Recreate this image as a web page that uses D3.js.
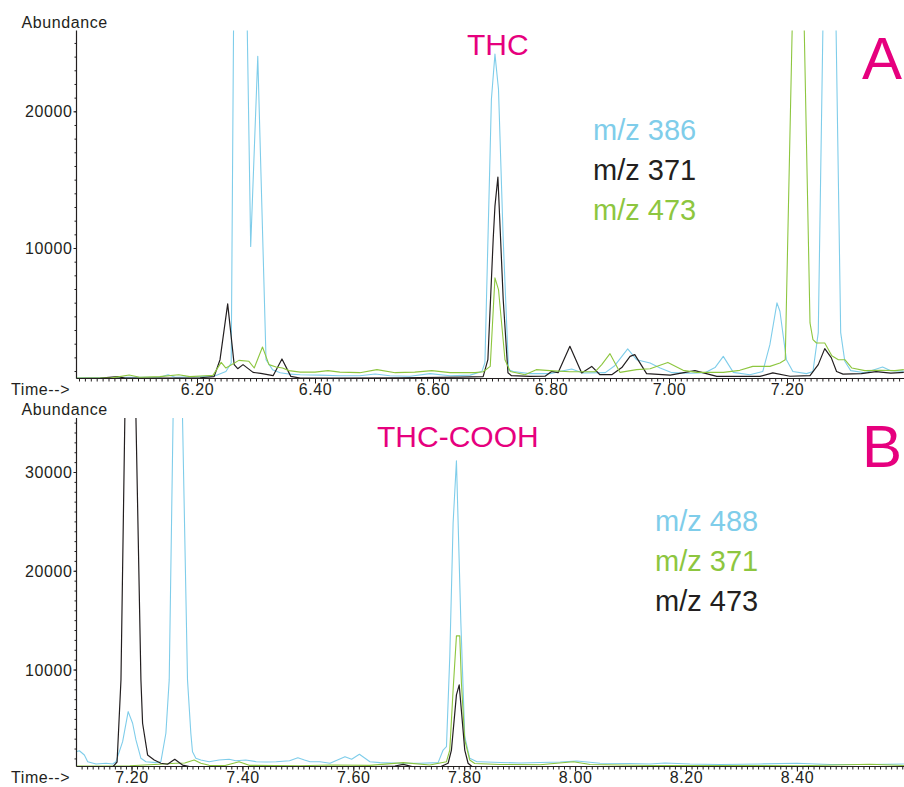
<!DOCTYPE html>
<html>
<head>
<meta charset="utf-8">
<script src="https://cdnjs.cloudflare.com/ajax/libs/d3/7.8.5/d3.min.js"></script>
<style>
  body { margin: 0; background: #fff; }
  svg { display: block; font-family: "Liberation Sans", Arial, sans-serif; }
</style>
</head>
<body>
<svg id="chart" width="904" height="787"></svg>
<script>
// ---- Panel A (THC): [time (min), abundance] ----
const topMz386 = [[5.995,510],[6.036,510],[6.086,550],[6.137,550],[6.151,730],[6.163,550],[6.205,590],[6.231,660],[6.249,970],[6.258,1590],[6.262,26500],[6.268,60000],[6.285,26500],[6.291,10110],[6.303,24030],[6.317,1830],[6.328,1100],[6.341,880],[6.358,770],[6.375,730],[6.408,700],[6.442,660],[6.476,660],[6.502,780],[6.527,660],[6.561,620],[6.595,810],[6.629,660],[6.663,700],[6.683,970],[6.688,1610],[6.699,20880],[6.705,24180],[6.711,21610],[6.719,10620],[6.728,1100],[6.736,970],[6.764,810],[6.798,810],[6.835,1150],[6.854,860],[6.892,880],[6.908,1390],[6.930,2615],[6.945,1830],[6.968,1590],[6.985,1220],[7.005,880],[7.036,840],[7.061,880],[7.078,1250],[7.092,2070],[7.109,900],[7.137,730],[7.159,970],[7.171,2930],[7.183,5990],[7.188,5370],[7.199,1830],[7.210,970],[7.233,810],[7.244,970],[7.253,3810],[7.261,26500],[7.271,60000],[7.283,26500],[7.291,3810],[7.298,1710],[7.308,1030],[7.332,880],[7.362,1300],[7.375,1030],[7.398,990]];
const topMz371 = [[5.995,440],[6.036,480],[6.066,590],[6.078,480],[6.137,480],[6.205,510],[6.229,590],[6.239,1830],[6.252,5910],[6.263,1470],[6.269,1170],[6.278,1470],[6.295,900],[6.308,830],[6.329,660],[6.344,1880],[6.359,610],[6.375,480],[6.442,480],[6.544,510],[6.646,550],[6.685,590],[6.693,1830],[6.702,10620],[6.705,13060],[6.710,15190],[6.719,6230],[6.727,880],[6.733,660],[6.764,610],[6.790,620],[6.801,970],[6.812,880],[6.832,2810],[6.852,860],[6.869,1340],[6.883,730],[6.903,730],[6.920,1250],[6.934,2070],[6.942,2200],[6.962,810],[7.002,700],[7.044,1030],[7.081,610],[7.154,610],[7.176,860],[7.205,620],[7.239,660],[7.253,1470],[7.264,2640],[7.275,1980],[7.284,970],[7.295,770],[7.326,810],[7.351,950],[7.376,840],[7.398,900]];
const topMz473 = [[5.995,480],[6.053,480],[6.085,710],[6.103,550],[6.137,590],[6.169,730],[6.188,590],[6.214,660],[6.227,680],[6.241,1630],[6.249,1220],[6.271,1780],[6.288,1710],[6.297,1220],[6.311,2760],[6.322,1470],[6.334,1300],[6.345,1220],[6.356,1030],[6.375,920],[6.400,920],[6.422,1030],[6.442,920],[6.476,880],[6.505,1100],[6.536,880],[6.569,920],[6.598,1030],[6.629,880],[6.671,880],[6.685,950],[6.697,1340],[6.705,7820],[6.711,6960],[6.722,1830],[6.731,970],[6.756,730],[6.775,1100],[6.798,1030],[6.832,950],[6.875,950],[6.886,1470],[6.900,2270],[6.917,900],[6.945,1100],[6.968,1170],[6.998,1630],[7.024,1050],[7.047,900],[7.092,900],[7.120,1050],[7.142,1340],[7.171,1340],[7.188,1590],[7.197,1830],[7.209,26500],[7.219,60000],[7.229,26500],[7.239,4520],[7.244,3300],[7.250,3050],[7.264,3050],[7.276,2120],[7.287,1830],[7.298,1830],[7.310,1220],[7.332,1030],[7.358,1060],[7.383,1030],[7.398,1100]];
const topXTicks = [6.2, 6.4, 6.6, 6.8, 7.0, 7.2];
const topYTicks = [10000, 20000];

// ---- Panel B (THC-COOH) ----
const botMz488 = [[7.100,1680],[7.106,1780],[7.115,1350],[7.121,670],[7.136,440],[7.154,510],[7.166,440],[7.172,670],[7.184,2700],[7.194,5740],[7.202,4560],[7.208,2870],[7.217,1010],[7.226,670],[7.244,570],[7.253,670],[7.262,3550],[7.268,8950],[7.275,35500],[7.283,63400],[7.292,35500],[7.301,8950],[7.307,3550],[7.310,1680],[7.316,1010],[7.325,840],[7.340,670],[7.358,840],[7.376,910],[7.388,770],[7.406,840],[7.425,670],[7.443,640],[7.461,670],[7.485,770],[7.500,1070],[7.512,840],[7.522,670],[7.540,670],[7.558,510],[7.585,1180],[7.597,910],[7.611,1420],[7.630,670],[7.648,570],[7.684,510],[7.720,510],[7.753,570],[7.762,1850],[7.768,2190],[7.774,11310],[7.780,24830],[7.786,31140],[7.794,14700],[7.801,3200],[7.810,1010],[7.823,670],[7.829,670],[7.865,590],[7.901,540],[7.937,590],[7.973,640],[8.003,740],[8.045,510],[8.099,490],[8.135,440],[8.162,540],[8.207,440],[8.261,390],[8.333,440],[8.400,510],[8.460,390],[8.532,390],[8.593,440]];
const botMz371 = [[7.100,230],[7.143,230],[7.197,260],[7.250,410],[7.280,510],[7.296,540],[7.313,840],[7.325,510],[7.340,300],[7.369,280],[7.394,670],[7.412,300],[7.459,280],[7.503,260],[7.558,330],[7.630,300],[7.690,570],[7.738,330],[7.768,670],[7.774,1850],[7.780,7940],[7.786,13410],[7.792,13410],[7.795,8610],[7.801,2870],[7.810,840],[7.819,490],[7.865,390],[7.937,360],[7.997,670],[8.027,390],[8.135,280],[8.261,280],[8.405,260],[8.532,410],[8.593,280]];
const botMz473 = [[7.100,130],[7.161,130],[7.167,200],[7.174,640],[7.181,8950],[7.188,35500],[7.197,68000],[7.208,35500],[7.217,8950],[7.220,4560],[7.229,1350],[7.241,840],[7.253,510],[7.265,410],[7.278,910],[7.292,330],[7.307,160],[7.360,130],[7.504,130],[7.612,130],[7.675,230],[7.690,390],[7.706,180],[7.756,130],[7.771,510],[7.777,1850],[7.786,7430],[7.791,8440],[7.801,1850],[7.807,510],[7.814,180],[7.901,130],[8.045,130],[8.225,130],[8.405,130],[8.593,130]];
const botXTicks = [7.2, 7.4, 7.6, 7.8, 8.0, 8.2, 8.4];
const botYTicks = [10000, 20000, 30000];

const cBlue = "#7fcdea", cBlack = "#231f20", cGreen = "#8dc63f", cPink = "#e6007e";

const svg = d3.select("#chart");

function drawPanel(p) {
  let g = svg.append("g");

  // scales pinned to the labelled ticks
  let x = d3.scaleLinear().domain(p.xRef).range(p.xPix);
  let y = d3.scaleLinear().domain(p.yRef).range(p.yPix);

  let clipId = "clip" + p.id;
  svg.append("clipPath").attr("id", clipId)
    .append("rect")
    .attr("x", p.left).attr("y", p.top)
    .attr("width", p.right - p.left).attr("height", p.bottom - p.top);

  let line = d3.line().x(d => x(d[0])).y(d => y(d[1]));

  p.series.forEach(s => {
    g.append("path")
      .datum(s.data)
      .attr("clip-path", `url(#${clipId})`)
      .attr("fill", "none")
      .attr("stroke", s.color)
      .attr("stroke-width", s.width)
      .attr("stroke-linejoin", "round")
      .attr("d", line);
  });

  // x axis: minor ticks every 0.01, labels every 0.2
  let x0 = x.invert(p.left), x1 = x.invert(p.right);
  let minor = d3.range(Math.ceil(x0 * 100), Math.floor(x1 * 100) + 1).map(d => d / 100);
  g.append("g")
    .attr("transform", `translate(0,${p.bottom})`)
    .call(d3.axisBottom(x).tickValues(minor).tickSize(3).tickFormat(""))
    .call(a => a.select(".domain").remove());
  let xAx = g.append("g")
    .attr("transform", `translate(0,${p.bottom})`)
    .call(d3.axisBottom(x).tickValues(p.xTicks).tickSize(5).tickFormat(d3.format(".2f")))
    .call(a => a.select(".domain").remove());
  xAx.selectAll("text").attr("y", 16).attr("dy", null)
    .style("font-size", "16px").style("letter-spacing", "0.6px").attr("fill", "#231f20");

  // y axis: minor ticks every 1000
  let yMax = y.invert(p.top), yMin = y.invert(p.bottom);
  let yMinor = d3.range(Math.ceil(yMin / 1000), Math.floor(yMax / 1000) + 1).map(d => d * 1000);
  g.append("g")
    .attr("transform", `translate(${p.left},0)`)
    .call(d3.axisLeft(y).tickValues(yMinor).tickSize(2).tickFormat(""))
    .call(a => a.select(".domain").remove());
  let yAx = g.append("g")
    .attr("transform", `translate(${p.left},0)`)
    .call(d3.axisLeft(y).tickValues(p.yTicks).tickSize(3).tickPadding(1).tickFormat(d3.format("d")))
    .call(a => a.select(".domain").remove());
  yAx.selectAll("text").attr("dy", "0.35em")
    .style("font-size", "16px").style("letter-spacing", "0.6px").attr("fill", "#231f20");

  g.selectAll(".tick line").attr("stroke", "#231f20");

  // axis lines
  g.append("line").attr("x1", p.left).attr("x2", p.left).attr("y1", p.top).attr("y2", p.bottom)
    .attr("stroke", "#231f20").attr("stroke-width", 1.2);
  g.append("line").attr("x1", p.left).attr("x2", p.right).attr("y1", p.bottom).attr("y2", p.bottom)
    .attr("stroke", "#231f20").attr("stroke-width", 1.2);

  // axis captions
  g.append("text").attr("x", 21.5).attr("y", p.top - 3)
    .style("font-size", "16px").style("letter-spacing", "0.6px").attr("fill", "#231f20")
    .text("Abundance");
  g.append("text").attr("x", 11).attr("y", p.bottom + 16)
    .style("font-size", "16px").style("letter-spacing", "0.6px").attr("fill", "#231f20")
    .text("Time-->");

  // compound name and panel letter
  g.append("text").attr("x", p.nameX).attr("y", p.nameY)
    .style("font-size", "30px").attr("fill", cPink).text(p.name);
  g.append("text").attr("x", 862).attr("y", p.letterY)
    .style("font-size", "60px").attr("fill", cPink).text(p.letter);

  // legend
  p.legend.forEach((l, i) => {
    g.append("text").attr("x", p.legX).attr("y", p.legY + i * 40)
      .style("font-size", "29px").attr("fill", l.color).text(l.label);
  });
}

drawPanel({
  id: "A",
  xRef: [6.2, 7.2], xPix: [197, 787],
  yRef: [0, 20000], yPix: [384.7, 111.3],
  left: 76.5, right: 904, top: 30.5, bottom: 378.5,
  xTicks: topXTicks, yTicks: topYTicks,
  series: [
    { data: topMz386, color: cBlue, width: 1.1 },
    { data: topMz371, color: cBlack, width: 1.2 },
    { data: topMz473, color: cGreen, width: 1.1 }
  ],
  name: "THC", nameX: 467, nameY: 54.5,
  letter: "A", letterY: 78.5,
  legX: 593, legY: 140,
  legend: [
    { label: "m/z 386", color: cBlue },
    { label: "m/z 371", color: cBlack },
    { label: "m/z 473", color: cGreen }
  ]
});

drawPanel({
  id: "B",
  xRef: [7.2, 8.4], xPix: [131.5, 796.9],
  yRef: [0, 30000], yPix: [768.3, 472],
  left: 76.5, right: 904, top: 418, bottom: 766.5,
  xTicks: botXTicks, yTicks: botYTicks,
  series: [
    { data: botMz488, color: cBlue, width: 1.1 },
    { data: botMz371, color: cGreen, width: 1.1 },
    { data: botMz473, color: cBlack, width: 1.2 }
  ],
  name: "THC-COOH", nameX: 377, nameY: 447,
  letter: "B", letterY: 467,
  legX: 655, legY: 531,
  legend: [
    { label: "m/z 488", color: cBlue },
    { label: "m/z 371", color: cGreen },
    { label: "m/z 473", color: cBlack }
  ]
});
</script>
</body>
</html>
